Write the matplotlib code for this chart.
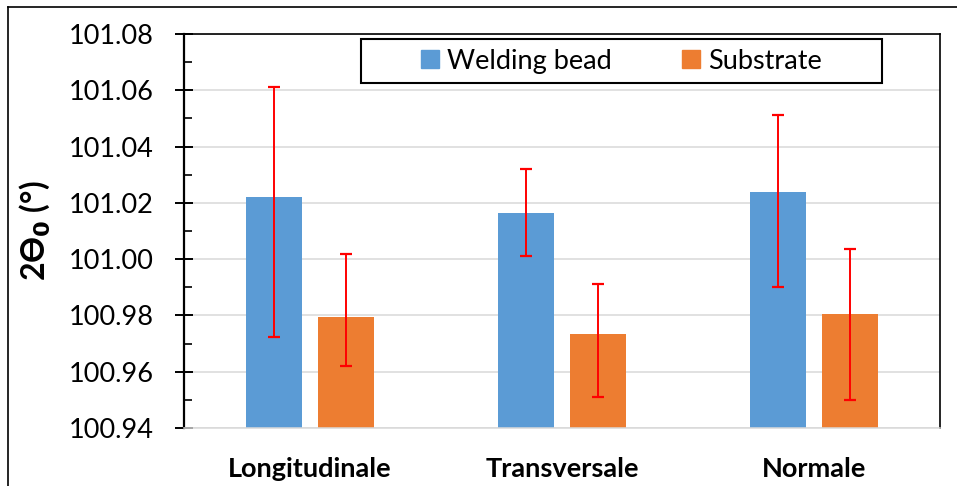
import numpy as np
import matplotlib.pyplot as plt
from matplotlib.patches import Patch, Rectangle
from matplotlib.lines import Line2D

plt.rcParams['font.family'] = ['Lato', 'DejaVu Sans']

categorias = ['Longitudinale', 'Transversale', 'Normale']
series = ['Welding bead', 'Substrate']

# valores medios
bead = [101.0220, 101.0165, 101.0240]
substrate = [100.9795, 100.9735, 100.9805]

# extremos de las barras de error (no son simetricas)
bead_sup = [101.0610, 101.0320, 101.0512]
bead_inf = [100.9722, 101.0012, 100.9900]
sub_sup = [101.0020, 100.9910, 101.0036]
sub_inf = [100.9621, 100.9511, 100.9498]

azul = '#5B9BD5'
naranja = '#ED7D31'

fig = plt.figure(figsize=(9.57, 4.86), dpi=100)
ax = fig.add_axes([0.1923, 0.1193, 0.7899, 0.8107])

x = np.arange(len(categorias))
ancho = 0.222
desp = 0.143

bead = np.array(bead)
substrate = np.array(substrate)
err_bead = [bead - np.array(bead_inf), np.array(bead_sup) - bead]
err_sub = [substrate - np.array(sub_inf), np.array(sub_sup) - substrate]

base = 100.94
ax.bar(x - desp, bead - base, ancho, bottom=base, color=azul, zorder=2)
ax.bar(x + desp, substrate - base, ancho, bottom=base, color=naranja, zorder=2)

kw = dict(fmt='none', ecolor='#FF0000', elinewidth=1.4, capsize=4.2, capthick=1.6, zorder=3)
ax.errorbar(x - desp, bead, yerr=err_bead, **kw)
ax.errorbar(x + desp, substrate, yerr=err_sub, **kw)

ax.set_xlim(-0.5, 2.5)
ax.set_ylim(100.94, 101.08)
ax.set_yticks(np.arange(100.94, 101.081, 0.02))
ax.set_yticks(np.arange(100.95, 101.08, 0.02), minor=True)
ax.yaxis.set_major_formatter(plt.FormatStrFormatter('%.2f'))
ax.tick_params(axis='y', which='major', direction='inout', length=13, width=1.4,
               labelsize=19.5, pad=15.5)
ax.tick_params(axis='y', which='minor', direction='in', length=5.8, width=1.2)

ax.set_xticks(x)
ax.set_xticklabels(categorias, fontweight='bold', fontsize=19.5)
ax.tick_params(axis='x', length=0, pad=21)

ax.grid(axis='y', color='#D9D9D9', linewidth=1.1, zorder=0)
ax.set_axisbelow(True)

ax.spines['left'].set_linewidth(1.6)
ax.spines['top'].set_linewidth(1.2)
ax.spines['right'].set_linewidth(1.2)
ax.spines['bottom'].set_color('#D9D9D9')
ax.spines['bottom'].set_linewidth(1.1)

ax.set_ylabel('2ϴ$_\\mathbf{0}$ (°)', fontweight='bold', fontsize=23)
ax.yaxis.set_label_coords(-0.174, 0.5)

# leyenda con marco propio
marco = Rectangle((0.234, 0.876), 0.689, 0.112, transform=ax.transAxes,
                  facecolor='white', edgecolor='black', linewidth=1.5,
                  zorder=5, clip_on=False)
ax.add_patch(marco)
manijas = [Patch(color=azul), Patch(color=naranja)]
leg = ax.legend(manijas, series, loc='center', bbox_to_anchor=(0.5787, 0.9315),
                ncol=2, frameon=False, fontsize=19.5, handlelength=0.65,
                handleheight=0.65, handletextpad=0.3, columnspacing=2.6,
                borderpad=0.2)
leg.set_zorder(6)

# marco exterior del grafico
fig.add_artist(Line2D([8 / 957, 8 / 957], [0, 1 - 7 / 486], color='black', linewidth=1.2))
fig.add_artist(Line2D([8 / 957, 1], [1 - 7 / 486, 1 - 7 / 486], color='black', linewidth=1.2))

fig.savefig('out.png', dpi=100)
